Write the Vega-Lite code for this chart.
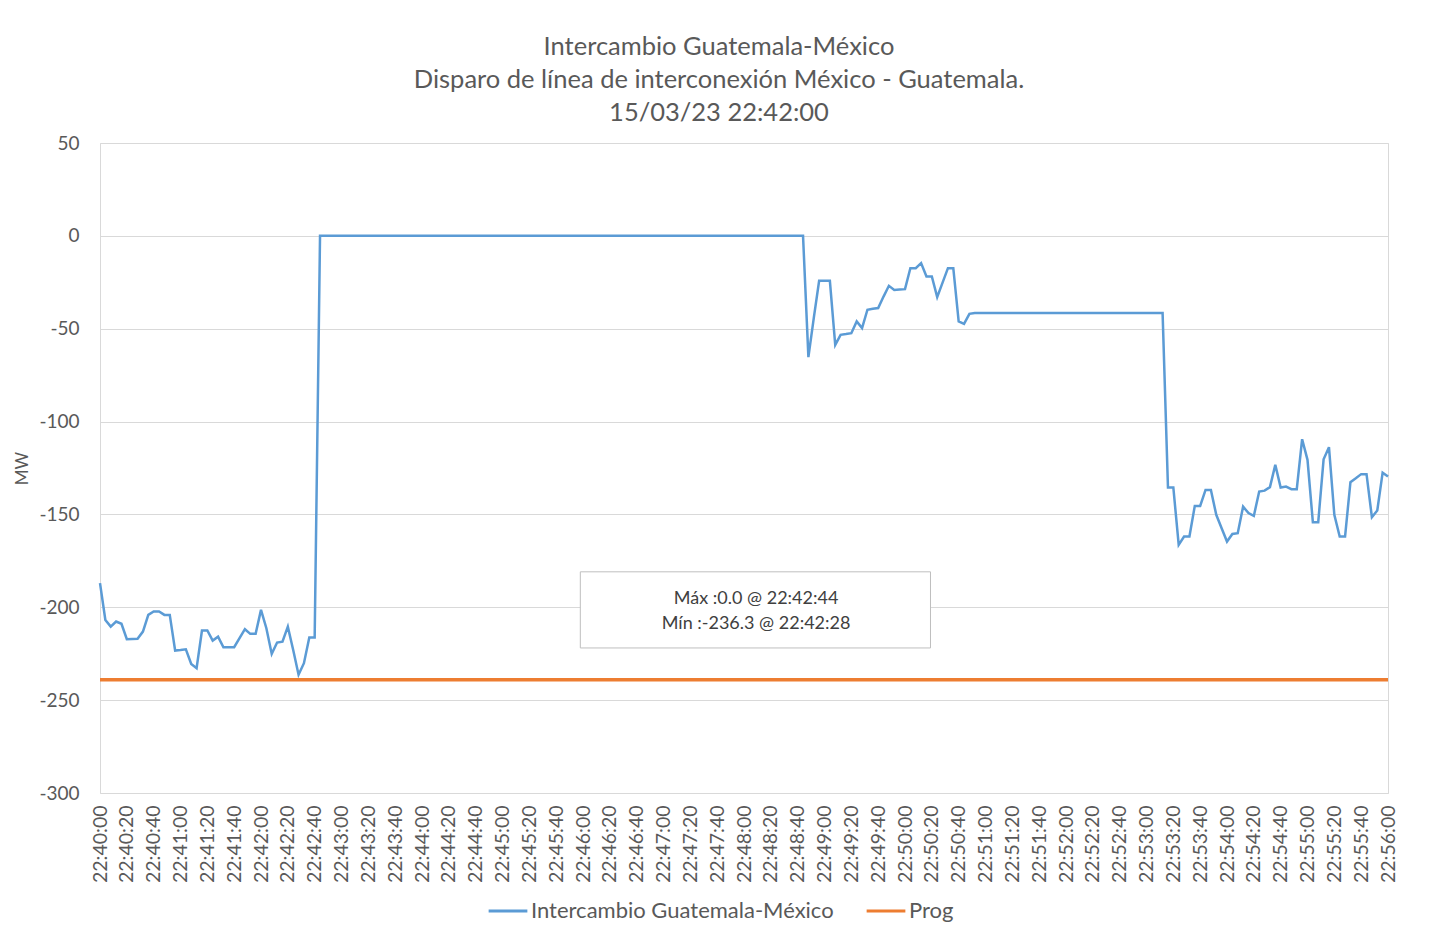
{
  "$schema": "https://vega.github.io/schema/vega-lite/v6.json",
  "width": 1288,
  "height": 650,
  "autosize": "none",
  "padding": {"left": 100, "top": 143, "right": 49, "bottom": 143},
  "background": "white",
  "title": {
    "text": ["Intercambio Guatemala-México", "Disparo de línea de interconexión México - Guatemala.", "15/03/23 22:42:00"],
    "font": "Lato",
    "fontSize": 25.5,
    "fontWeight": "normal",
    "color": "#595959",
    "lineHeight": 33,
    "anchor": "middle",
    "dx": -25,
    "offset": 8
  },
  "config": {
    "view": {"stroke": "#D9D9D9", "strokeWidth": 1},
    "font": "Lato",
    "axis": {
      "labelColor": "#595959",
      "titleColor": "#595959",
      "labelFont": "Lato",
      "titleFont": "Lato",
      "gridColor": "#D9D9D9",
      "gridWidth": 1,
      "domain": false,
      "ticks": false
    }
  },
  "layer": [
    {
      "data": {
        "values": [
          {"t":"2023-03-15T22:40:00","v":-187.0},{"t":"2023-03-15T22:40:04","v":-206.8},{"t":"2023-03-15T22:40:08","v":-210.4},{"t":"2023-03-15T22:40:12","v":-207.7},{"t":"2023-03-15T22:40:16","v":-208.9},{"t":"2023-03-15T22:40:20","v":-217.2},{"t":"2023-03-15T22:40:24","v":-217.1},{"t":"2023-03-15T22:40:28","v":-217.0},{"t":"2023-03-15T22:40:32","v":-213.1},{"t":"2023-03-15T22:40:36","v":-204.1},{"t":"2023-03-15T22:40:40","v":-202.3},{"t":"2023-03-15T22:40:44","v":-202.3},{"t":"2023-03-15T22:40:48","v":-204.1},{"t":"2023-03-15T22:40:52","v":-204.1},{"t":"2023-03-15T22:40:56","v":-223.3},
          {"t":"2023-03-15T22:41:00","v":-223.0},{"t":"2023-03-15T22:41:04","v":-222.6},{"t":"2023-03-15T22:41:08","v":-230.5},{"t":"2023-03-15T22:41:12","v":-232.8},{"t":"2023-03-15T22:41:16","v":-212.5},{"t":"2023-03-15T22:41:20","v":-212.5},{"t":"2023-03-15T22:41:24","v":-217.9},{"t":"2023-03-15T22:41:28","v":-215.8},{"t":"2023-03-15T22:41:32","v":-221.5},{"t":"2023-03-15T22:41:36","v":-221.5},{"t":"2023-03-15T22:41:40","v":-221.5},{"t":"2023-03-15T22:41:44","v":-216.6},{"t":"2023-03-15T22:41:48","v":-211.8},{"t":"2023-03-15T22:41:52","v":-214.3},{"t":"2023-03-15T22:41:56","v":-214.3},
          {"t":"2023-03-15T22:42:00","v":-201.4},{"t":"2023-03-15T22:42:04","v":-211.3},{"t":"2023-03-15T22:42:08","v":-225.1},{"t":"2023-03-15T22:42:12","v":-219.0},{"t":"2023-03-15T22:42:16","v":-218.5},{"t":"2023-03-15T22:42:20","v":-210.4},{"t":"2023-03-15T22:42:24","v":-223.0},{"t":"2023-03-15T22:42:28","v":-236.3},{"t":"2023-03-15T22:42:32","v":-230.1},{"t":"2023-03-15T22:42:36","v":-216.3},{"t":"2023-03-15T22:42:40","v":-216.3},{"t":"2023-03-15T22:42:44","v":0},{"t":"2023-03-15T22:42:48","v":0},{"t":"2023-03-15T22:42:52","v":0},{"t":"2023-03-15T22:42:56","v":0},
          {"t":"2023-03-15T22:43:00","v":0},{"t":"2023-03-15T22:43:04","v":0},{"t":"2023-03-15T22:43:08","v":0},{"t":"2023-03-15T22:43:12","v":0},{"t":"2023-03-15T22:43:16","v":0},{"t":"2023-03-15T22:43:20","v":0},{"t":"2023-03-15T22:43:24","v":0},{"t":"2023-03-15T22:43:28","v":0},{"t":"2023-03-15T22:43:32","v":0},{"t":"2023-03-15T22:43:36","v":0},{"t":"2023-03-15T22:43:40","v":0},{"t":"2023-03-15T22:43:44","v":0},{"t":"2023-03-15T22:43:48","v":0},{"t":"2023-03-15T22:43:52","v":0},{"t":"2023-03-15T22:43:56","v":0},
          {"t":"2023-03-15T22:44:00","v":0},{"t":"2023-03-15T22:44:04","v":0},{"t":"2023-03-15T22:44:08","v":0},{"t":"2023-03-15T22:44:12","v":0},{"t":"2023-03-15T22:44:16","v":0},{"t":"2023-03-15T22:44:20","v":0},{"t":"2023-03-15T22:44:24","v":0},{"t":"2023-03-15T22:44:28","v":0},{"t":"2023-03-15T22:44:32","v":0},{"t":"2023-03-15T22:44:36","v":0},{"t":"2023-03-15T22:44:40","v":0},{"t":"2023-03-15T22:44:44","v":0},{"t":"2023-03-15T22:44:48","v":0},{"t":"2023-03-15T22:44:52","v":0},{"t":"2023-03-15T22:44:56","v":0},
          {"t":"2023-03-15T22:45:00","v":0},{"t":"2023-03-15T22:45:04","v":0},{"t":"2023-03-15T22:45:08","v":0},{"t":"2023-03-15T22:45:12","v":0},{"t":"2023-03-15T22:45:16","v":0},{"t":"2023-03-15T22:45:20","v":0},{"t":"2023-03-15T22:45:24","v":0},{"t":"2023-03-15T22:45:28","v":0},{"t":"2023-03-15T22:45:32","v":0},{"t":"2023-03-15T22:45:36","v":0},{"t":"2023-03-15T22:45:40","v":0},{"t":"2023-03-15T22:45:44","v":0},{"t":"2023-03-15T22:45:48","v":0},{"t":"2023-03-15T22:45:52","v":0},{"t":"2023-03-15T22:45:56","v":0},
          {"t":"2023-03-15T22:46:00","v":0},{"t":"2023-03-15T22:46:04","v":0},{"t":"2023-03-15T22:46:08","v":0},{"t":"2023-03-15T22:46:12","v":0},{"t":"2023-03-15T22:46:16","v":0},{"t":"2023-03-15T22:46:20","v":0},{"t":"2023-03-15T22:46:24","v":0},{"t":"2023-03-15T22:46:28","v":0},{"t":"2023-03-15T22:46:32","v":0},{"t":"2023-03-15T22:46:36","v":0},{"t":"2023-03-15T22:46:40","v":0},{"t":"2023-03-15T22:46:44","v":0},{"t":"2023-03-15T22:46:48","v":0},{"t":"2023-03-15T22:46:52","v":0},{"t":"2023-03-15T22:46:56","v":0},
          {"t":"2023-03-15T22:47:00","v":0},{"t":"2023-03-15T22:47:04","v":0},{"t":"2023-03-15T22:47:08","v":0},{"t":"2023-03-15T22:47:12","v":0},{"t":"2023-03-15T22:47:16","v":0},{"t":"2023-03-15T22:47:20","v":0},{"t":"2023-03-15T22:47:24","v":0},{"t":"2023-03-15T22:47:28","v":0},{"t":"2023-03-15T22:47:32","v":0},{"t":"2023-03-15T22:47:36","v":0},{"t":"2023-03-15T22:47:40","v":0},{"t":"2023-03-15T22:47:44","v":0},{"t":"2023-03-15T22:47:48","v":0},{"t":"2023-03-15T22:47:52","v":0},{"t":"2023-03-15T22:47:56","v":0},
          {"t":"2023-03-15T22:48:00","v":0},{"t":"2023-03-15T22:48:04","v":0},{"t":"2023-03-15T22:48:08","v":0},{"t":"2023-03-15T22:48:12","v":0},{"t":"2023-03-15T22:48:16","v":0},{"t":"2023-03-15T22:48:20","v":0},{"t":"2023-03-15T22:48:24","v":0},{"t":"2023-03-15T22:48:28","v":0},{"t":"2023-03-15T22:48:32","v":0},{"t":"2023-03-15T22:48:36","v":0},{"t":"2023-03-15T22:48:40","v":0},{"t":"2023-03-15T22:48:44","v":0},{"t":"2023-03-15T22:48:48","v":-65.3},{"t":"2023-03-15T22:48:52","v":-44.3},{"t":"2023-03-15T22:48:56","v":-24.2},
          {"t":"2023-03-15T22:49:00","v":-24.2},{"t":"2023-03-15T22:49:04","v":-24.2},{"t":"2023-03-15T22:49:08","v":-58.7},{"t":"2023-03-15T22:49:12","v":-53.3},{"t":"2023-03-15T22:49:16","v":-52.9},{"t":"2023-03-15T22:49:20","v":-52.4},{"t":"2023-03-15T22:49:24","v":-46.1},{"t":"2023-03-15T22:49:28","v":-49.7},{"t":"2023-03-15T22:49:32","v":-39.8},{"t":"2023-03-15T22:49:36","v":-39.3},{"t":"2023-03-15T22:49:40","v":-38.9},{"t":"2023-03-15T22:49:44","v":-32.7},{"t":"2023-03-15T22:49:48","v":-26.9},{"t":"2023-03-15T22:49:52","v":-29.1},{"t":"2023-03-15T22:49:56","v":-28.9},
          {"t":"2023-03-15T22:50:00","v":-28.7},{"t":"2023-03-15T22:50:04","v":-17.4},{"t":"2023-03-15T22:50:08","v":-17.4},{"t":"2023-03-15T22:50:12","v":-14.7},{"t":"2023-03-15T22:50:16","v":-21.9},{"t":"2023-03-15T22:50:20","v":-21.9},{"t":"2023-03-15T22:50:24","v":-33.0},{"t":"2023-03-15T22:50:28","v":-25.2},{"t":"2023-03-15T22:50:32","v":-17.4},{"t":"2023-03-15T22:50:36","v":-17.4},{"t":"2023-03-15T22:50:40","v":-46.1},{"t":"2023-03-15T22:50:44","v":-47.4},{"t":"2023-03-15T22:50:48","v":-42.0},{"t":"2023-03-15T22:50:52","v":-41.6},{"t":"2023-03-15T22:50:56","v":-41.6},
          {"t":"2023-03-15T22:51:00","v":-41.6},{"t":"2023-03-15T22:51:04","v":-41.6},{"t":"2023-03-15T22:51:08","v":-41.6},{"t":"2023-03-15T22:51:12","v":-41.6},{"t":"2023-03-15T22:51:16","v":-41.6},{"t":"2023-03-15T22:51:20","v":-41.6},{"t":"2023-03-15T22:51:24","v":-41.6},{"t":"2023-03-15T22:51:28","v":-41.6},{"t":"2023-03-15T22:51:32","v":-41.6},{"t":"2023-03-15T22:51:36","v":-41.6},{"t":"2023-03-15T22:51:40","v":-41.6},{"t":"2023-03-15T22:51:44","v":-41.6},{"t":"2023-03-15T22:51:48","v":-41.6},{"t":"2023-03-15T22:51:52","v":-41.6},{"t":"2023-03-15T22:51:56","v":-41.6},
          {"t":"2023-03-15T22:52:00","v":-41.6},{"t":"2023-03-15T22:52:04","v":-41.6},{"t":"2023-03-15T22:52:08","v":-41.6},{"t":"2023-03-15T22:52:12","v":-41.6},{"t":"2023-03-15T22:52:16","v":-41.6},{"t":"2023-03-15T22:52:20","v":-41.6},{"t":"2023-03-15T22:52:24","v":-41.6},{"t":"2023-03-15T22:52:28","v":-41.6},{"t":"2023-03-15T22:52:32","v":-41.6},{"t":"2023-03-15T22:52:36","v":-41.6},{"t":"2023-03-15T22:52:40","v":-41.6},{"t":"2023-03-15T22:52:44","v":-41.6},{"t":"2023-03-15T22:52:48","v":-41.6},{"t":"2023-03-15T22:52:52","v":-41.6},{"t":"2023-03-15T22:52:56","v":-41.6},
          {"t":"2023-03-15T22:53:00","v":-41.6},{"t":"2023-03-15T22:53:04","v":-41.6},{"t":"2023-03-15T22:53:08","v":-41.6},{"t":"2023-03-15T22:53:12","v":-41.6},{"t":"2023-03-15T22:53:16","v":-135.5},{"t":"2023-03-15T22:53:20","v":-135.5},{"t":"2023-03-15T22:53:24","v":-166.4},{"t":"2023-03-15T22:53:28","v":-161.9},{"t":"2023-03-15T22:53:32","v":-161.9},{"t":"2023-03-15T22:53:36","v":-145.4},{"t":"2023-03-15T22:53:40","v":-145.4},{"t":"2023-03-15T22:53:44","v":-136.8},{"t":"2023-03-15T22:53:48","v":-136.8},{"t":"2023-03-15T22:53:52","v":-150.2},{"t":"2023-03-15T22:53:56","v":-157.4},
          {"t":"2023-03-15T22:54:00","v":-164.6},{"t":"2023-03-15T22:54:04","v":-160.5},{"t":"2023-03-15T22:54:08","v":-160.1},{"t":"2023-03-15T22:54:12","v":-145.8},{"t":"2023-03-15T22:54:16","v":-149.3},{"t":"2023-03-15T22:54:20","v":-150.8},{"t":"2023-03-15T22:54:24","v":-137.7},{"t":"2023-03-15T22:54:28","v":-137.2},{"t":"2023-03-15T22:54:32","v":-135.3},{"t":"2023-03-15T22:54:36","v":-123.3},{"t":"2023-03-15T22:54:40","v":-135.5},{"t":"2023-03-15T22:54:44","v":-135.0},{"t":"2023-03-15T22:54:48","v":-136.4},{"t":"2023-03-15T22:54:52","v":-136.4},{"t":"2023-03-15T22:54:56","v":-109.5},
          {"t":"2023-03-15T22:55:00","v":-120.6},{"t":"2023-03-15T22:55:04","v":-154.2},{"t":"2023-03-15T22:55:08","v":-154.2},{"t":"2023-03-15T22:55:12","v":-120.3},{"t":"2023-03-15T22:55:16","v":-113.8},{"t":"2023-03-15T22:55:20","v":-150.2},{"t":"2023-03-15T22:55:24","v":-161.9},{"t":"2023-03-15T22:55:28","v":-161.9},{"t":"2023-03-15T22:55:32","v":-132.6},{"t":"2023-03-15T22:55:36","v":-130.5},{"t":"2023-03-15T22:55:40","v":-128.3},{"t":"2023-03-15T22:55:44","v":-128.3},{"t":"2023-03-15T22:55:48","v":-151.5},{"t":"2023-03-15T22:55:52","v":-147.9},{"t":"2023-03-15T22:55:56","v":-127.5},
          {"t":"2023-03-15T22:56:00","v":-129.6}
        ]
      },
      "mark": {"type": "line", "strokeWidth": 2.5},
      "encoding": {
        "x": {
          "field": "t",
          "type": "temporal",
          "scale": {"nice": false},
          "axis": {
            "title": null,
            "format": "%H:%M:%S",
            "tickCount": 100,
            "values": [
              {"year":2023,"month":3,"date":15,"hours":22,"minutes":40,"seconds":0},{"year":2023,"month":3,"date":15,"hours":22,"minutes":40,"seconds":20},{"year":2023,"month":3,"date":15,"hours":22,"minutes":40,"seconds":40},
              {"year":2023,"month":3,"date":15,"hours":22,"minutes":41,"seconds":0},{"year":2023,"month":3,"date":15,"hours":22,"minutes":41,"seconds":20},{"year":2023,"month":3,"date":15,"hours":22,"minutes":41,"seconds":40},
              {"year":2023,"month":3,"date":15,"hours":22,"minutes":42,"seconds":0},{"year":2023,"month":3,"date":15,"hours":22,"minutes":42,"seconds":20},{"year":2023,"month":3,"date":15,"hours":22,"minutes":42,"seconds":40},
              {"year":2023,"month":3,"date":15,"hours":22,"minutes":43,"seconds":0},{"year":2023,"month":3,"date":15,"hours":22,"minutes":43,"seconds":20},{"year":2023,"month":3,"date":15,"hours":22,"minutes":43,"seconds":40},
              {"year":2023,"month":3,"date":15,"hours":22,"minutes":44,"seconds":0},{"year":2023,"month":3,"date":15,"hours":22,"minutes":44,"seconds":20},{"year":2023,"month":3,"date":15,"hours":22,"minutes":44,"seconds":40},
              {"year":2023,"month":3,"date":15,"hours":22,"minutes":45,"seconds":0},{"year":2023,"month":3,"date":15,"hours":22,"minutes":45,"seconds":20},{"year":2023,"month":3,"date":15,"hours":22,"minutes":45,"seconds":40},
              {"year":2023,"month":3,"date":15,"hours":22,"minutes":46,"seconds":0},{"year":2023,"month":3,"date":15,"hours":22,"minutes":46,"seconds":20},{"year":2023,"month":3,"date":15,"hours":22,"minutes":46,"seconds":40},
              {"year":2023,"month":3,"date":15,"hours":22,"minutes":47,"seconds":0},{"year":2023,"month":3,"date":15,"hours":22,"minutes":47,"seconds":20},{"year":2023,"month":3,"date":15,"hours":22,"minutes":47,"seconds":40},
              {"year":2023,"month":3,"date":15,"hours":22,"minutes":48,"seconds":0},{"year":2023,"month":3,"date":15,"hours":22,"minutes":48,"seconds":20},{"year":2023,"month":3,"date":15,"hours":22,"minutes":48,"seconds":40},
              {"year":2023,"month":3,"date":15,"hours":22,"minutes":49,"seconds":0},{"year":2023,"month":3,"date":15,"hours":22,"minutes":49,"seconds":20},{"year":2023,"month":3,"date":15,"hours":22,"minutes":49,"seconds":40},
              {"year":2023,"month":3,"date":15,"hours":22,"minutes":50,"seconds":0},{"year":2023,"month":3,"date":15,"hours":22,"minutes":50,"seconds":20},{"year":2023,"month":3,"date":15,"hours":22,"minutes":50,"seconds":40},
              {"year":2023,"month":3,"date":15,"hours":22,"minutes":51,"seconds":0},{"year":2023,"month":3,"date":15,"hours":22,"minutes":51,"seconds":20},{"year":2023,"month":3,"date":15,"hours":22,"minutes":51,"seconds":40},
              {"year":2023,"month":3,"date":15,"hours":22,"minutes":52,"seconds":0},{"year":2023,"month":3,"date":15,"hours":22,"minutes":52,"seconds":20},{"year":2023,"month":3,"date":15,"hours":22,"minutes":52,"seconds":40},
              {"year":2023,"month":3,"date":15,"hours":22,"minutes":53,"seconds":0},{"year":2023,"month":3,"date":15,"hours":22,"minutes":53,"seconds":20},{"year":2023,"month":3,"date":15,"hours":22,"minutes":53,"seconds":40},
              {"year":2023,"month":3,"date":15,"hours":22,"minutes":54,"seconds":0},{"year":2023,"month":3,"date":15,"hours":22,"minutes":54,"seconds":20},{"year":2023,"month":3,"date":15,"hours":22,"minutes":54,"seconds":40},
              {"year":2023,"month":3,"date":15,"hours":22,"minutes":55,"seconds":0},{"year":2023,"month":3,"date":15,"hours":22,"minutes":55,"seconds":20},{"year":2023,"month":3,"date":15,"hours":22,"minutes":55,"seconds":40},
              {"year":2023,"month":3,"date":15,"hours":22,"minutes":56,"seconds":0}
            ],
            "labelAngle": 270,
            "labelFontSize": 19.5,
            "labelPadding": 12,
            "labelOverlap": false,
            "grid": false
          }
        },
        "y": {
          "field": "v",
          "type": "quantitative",
          "scale": {"domain": [-300, 50], "nice": false, "zero": false},
          "axis": {
            "title": "MW",
            "titleFontSize": 17,
            "titleFontWeight": "normal",
            "titlePadding": 7,
            "values": [-300, -250, -200, -150, -100, -50, 0, 50],
            "labelExpr": "datum.value + ''",
            "labelFontSize": 19,
            "labelPadding": 21
          }
        },
        "color": {
          "datum": "Intercambio Guatemala-México",
          "scale": {
            "domain": ["Intercambio Guatemala-México", "Prog"],
            "range": ["#5B9BD5", "#ED7D31"]
          },
          "legend": {
            "orient": "none",
            "legendX": 387,
            "legendY": 747,
            "direction": "horizontal",
            "title": null,
            "symbolType": "stroke",
            "symbolSize": 1500,
            "symbolStrokeWidth": 3,
            "labelFont": "Lato",
            "labelFontSize": 22,
            "labelColor": "#595959",
            "labelOffset": 2,
            "columnPadding": 26,
            "labelLimit": 600
          }
        }
      }
    },
    {
      "data": {
        "values": [
          {"t": "2023-03-15T22:40:00", "v": -239},
          {"t": "2023-03-15T22:56:00", "v": -239}
        ]
      },
      "mark": {"type": "line", "strokeWidth": 3.5},
      "encoding": {
        "x": {"field": "t", "type": "temporal"},
        "y": {"field": "v", "type": "quantitative"},
        "color": {"datum": "Prog"}
      }
    },
    {
      "data": {
        "values": [
          {"t1": "2023-03-15T22:45:58", "t2": "2023-03-15T22:50:19", "y1": -180.9, "y2": -221.9}
        ]
      },
      "mark": {"type": "rect", "fill": "white", "stroke": "#BFBFBF", "strokeWidth": 1},
      "encoding": {
        "x": {"field": "t1", "type": "temporal"},
        "x2": {"field": "t2"},
        "y": {"field": "y1", "type": "quantitative"},
        "y2": {"field": "y2"}
      }
    },
    {
      "data": {
        "values": [
          {"t": "2023-03-15T22:48:09", "v": -195.5, "label": "Máx :0.0 @ 22:42:44"},
          {"t": "2023-03-15T22:48:09", "v": -209.0, "label": "Mín :-236.3 @ 22:42:28"}
        ]
      },
      "mark": {"type": "text", "font": "Lato", "fontSize": 18, "color": "#404040", "align": "center", "baseline": "middle"},
      "encoding": {
        "x": {"field": "t", "type": "temporal"},
        "y": {"field": "v", "type": "quantitative"},
        "text": {"field": "label"}
      }
    }
  ]
}
